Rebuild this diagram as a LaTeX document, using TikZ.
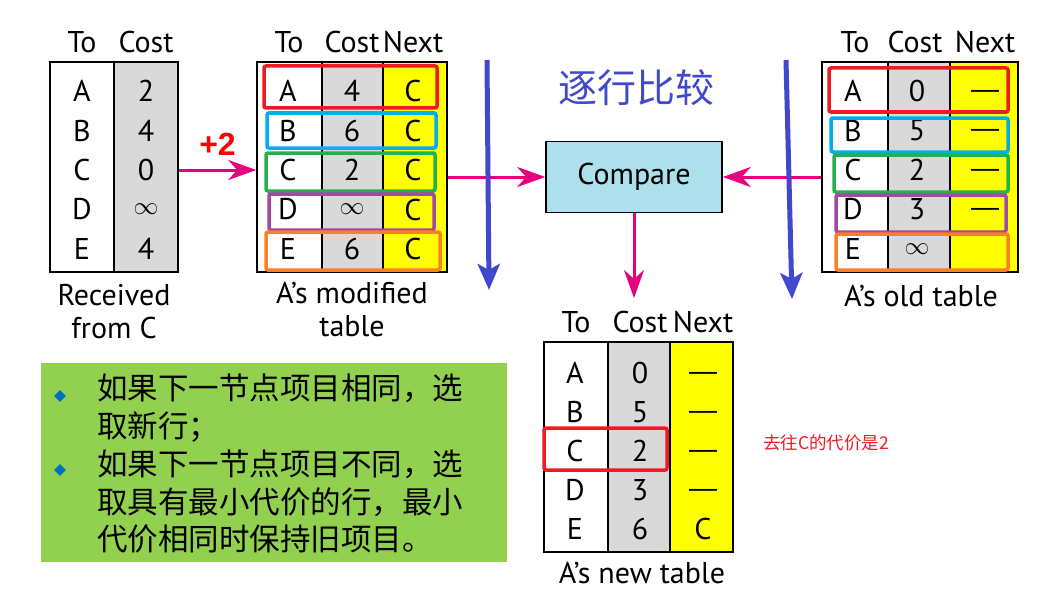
\documentclass[tikz,border=0pt]{standalone}
\usepackage{fontspec}
\setmainfont{PT Sans}
\newfontfamily\cjk{Noto Sans CJK SC}
\newfontfamily\plusfont{Liberation Sans}
\usetikzlibrary{arrows.meta,positioning,shapes.geometric}

\definecolor{flowpink}{RGB}{230,0,126}
\definecolor{scanblue}{RGB}{64,72,204}
\definecolor{costgray}{RGB}{217,217,217}
\definecolor{nextyellow}{RGB}{255,255,0}
\definecolor{cmpblue}{RGB}{173,223,236}
\definecolor{notegreen}{RGB}{146,208,80}
\definecolor{bulletblue}{RGB}{0,112,192}
\definecolor{hlred}{RGB}{237,28,36}
\definecolor{hlblue}{RGB}{0,174,239}
\definecolor{hlgreen}{RGB}{34,177,76}
\definecolor{hlpurple}{RGB}{163,73,164}
\definecolor{hlorange}{RGB}{255,127,39}

\begin{document}
\begin{tikzpicture}[
    x=1pt, y=-1pt,
    font=\fontsize{30}{35}\selectfont,
    tocol/.style={draw, line width=1.6pt, fill=white, inner sep=0pt,
        minimum width=#1, minimum height=210pt},
    costcol/.style={tocol=#1, fill=costgray},
    nextcol/.style={tocol=#1, fill=nextyellow},
    cell/.style={inner sep=0pt},
    dashcell/.style={inner sep=0pt, yshift=-3pt, font=\plusfont\fontsize{28}{30}\selectfont},
    rowbox/.style={draw=#1, line width=3.5pt, rounded corners=2pt},
    tbllbl/.style={align=center, inner sep=0pt},
    flow/.style={-{Stealth[length=28pt, width=20pt, inset=9pt]},
        flowpink, line width=3pt},
    scan/.style={-{Stealth[length=26pt, width=22pt, inset=6pt]},
        scanblue, line width=5pt},
    cmpbox/.style={draw, line width=1.6pt, fill=cmpblue,
        minimum width=176pt, minimum height=71pt},
    notebox/.style={fill=notegreen, minimum width=466pt, minimum height=199pt},
    bullet/.style={diamond, fill=bulletblue, inner sep=0pt, minimum size=12pt}
]
\useasboundingbox (0,0) rectangle (1045,594);

% Received from C
\node[tocol=64pt] (rcolto) at (82,167) {};
\node[costcol=64pt] (rcolcost) at (146,167) {};
\node[cell] (rhto) at (82,42) {To};
\node[cell] (rhcost) at (146,42) {Cost};
\foreach \t/\c [count=\i from 0] in {A/2, B/4, C/0, D/$\infty$, E/4} {
    \node[cell] (rto\i) at (82,{91+39.5*\i}) {\t};
    \node[cell] (rc\i) at (146,{91+39.5*\i}) {\c};
}
\node[tbllbl] (rlbl) at (114,312) {Received\\[-2pt]from C};

% A's modified table
\node[tocol=65pt] (mcolto) at (289.5,167) {};
\node[costcol=61pt] (mcolcost) at (352.5,167) {};
\node[nextcol=64pt] (mcolnext) at (415,167) {};
\node[cell] (mhto) at (289,42) {To};
\node[cell] (mhcost) at (352,42) {Cost};
\node[cell] (mhnext) at (413,42) {Next};
\foreach \t/\c [count=\i from 0] in {A/4, B/6, C/2, D/$\infty$, E/6} {
    \node[cell] (mto\i) at (288,{91+39.5*\i}) {\t};
    \node[cell] (mc\i) at (352,{91+39.5*\i}) {\c};
    \node[cell] (mn\i) at (413,{91+39.5*\i}) {C};
}
\draw[rowbox=hlred] (264,66) rectangle (437,108);
\draw[rowbox=hlblue] (267,113) rectangle (436,148);
\draw[rowbox=hlgreen] (266,153) rectangle (435,191);
\draw[rowbox=hlpurple] (269,194) rectangle (434,230);
\draw[rowbox=hlorange] (266,232) rectangle (440,270);
\node[tbllbl] (mlbl) at (352,310) {A’s modified\\[-2pt]table};

% A's old table
\node[tocol=66pt] (ocolto) at (855,167) {};
\node[costcol=62pt] (ocolcost) at (919,167) {};
\node[nextcol=68pt] (ocolnext) at (984,167) {};
\node[cell] (ohto) at (855,42) {To};
\node[cell] (ohcost) at (915,42) {Cost};
\node[cell] (ohnext) at (985,42) {Next};
\foreach \t/\c/\n [count=\i from 0] in {A/0/—, B/5/—, C/2/—, D/3/—, E/$\infty$/} {
    \node[cell] (oto\i) at (853,{91+39.5*\i}) {\t};
    \node[cell] (oc\i) at (917,{91+39.5*\i}) {\c};
    \node[dashcell] (on\i) at (985,{91+39.5*\i}) {\n};
}
\draw[rowbox=hlred] (829,68) rectangle (1008,112);
\draw[rowbox=hlblue] (831,118) rectangle (1008,152);
\draw[rowbox=hlgreen] (834,155) rectangle (1008,192);
\draw[rowbox=hlpurple] (836,195) rectangle (1006,232);
\draw[rowbox=hlorange] (836,234) rectangle (1008,270);
\node[tbllbl] (olbl) at (921,296) {A’s old table};

% A's new table
\node[tocol=64pt] (ncolto) at (576,447) {};
\node[costcol=62pt] (ncolcost) at (639,447) {};
\node[nextcol=63pt] (ncolnext) at (701.5,447) {};
\node[cell] (nhto) at (576,322) {To};
\node[cell] (nhcost) at (640,322) {Cost};
\node[cell] (nhnext) at (703,322) {Next};
\foreach \t/\c [count=\i from 0] in {A/0, B/5, C/2, D/3} {
    \node[cell] (nto\i) at (575,{373+39*\i}) {\t};
    \node[cell] (nc\i) at (640,{373+39*\i}) {\c};
    \node[dashcell] (nn\i) at (703,{373+39*\i}) {—};
}
\node[cell] (nto4) at (575,529) {E};
\node[cell] (nc4) at (640,529) {6};
\node[cell] (nn4) at (703,529) {C};
\draw[rowbox=hlred] (544,428) rectangle (667,470);
\node[tbllbl] (nlbl) at (642,573) {A’s new table};
\node[cell, text=hlred, font=\cjk\fontsize{17.5}{20}\selectfont] (nnote) at (826,443) {去往C的代价是2};

% Compare
\node[cmpbox] (cmp) at (634,177) {Compare};
\node[cell, text=scanblue, font=\cjk\fontsize{39}{44}\selectfont] (title) at (636,88) {逐行比较};
\coordinate (drop) at (634,298);

% arrows
\draw[flow] (rcolcost.east |- rto2) -- node[above=10pt, text=red, font=\plusfont\bfseries\fontsize{32}{34}\selectfont] (plus) {+2} (mcolto.west |- rto2);
\draw[flow] (mcolnext.east |- cmp) -- (cmp.west);
\draw[flow] (ocolto.west |- cmp) -- (cmp.east);
\draw[flow] (cmp.south) -- (drop);

\coordinate (scanAtop) at (487,60);
\coordinate (scanAend) at (489,290);
\coordinate (scanBtop) at (786,60);
\coordinate (scanBend) at (792,299);
\draw[scan] (scanAtop) -- (scanAend);
\draw[scan] (scanBtop) -- (scanBend);

% rules
\node[notebox] (note) at (274,462.5) {};
\node[bullet] (dot1) at (60,396) {};
\node[bullet] (dot2) at (60,470) {};
\node[cell, anchor=north west, align=left, font=\cjk\fontsize{30.5}{37.75}\selectfont] (rules) at (97,374)
    {如果下一节点项目相同，选\\取新行；\\如果下一节点项目不同，选\\取具有最小代价的行，最小\\代价相同时保持旧项目。};

\end{tikzpicture}
\end{document}
